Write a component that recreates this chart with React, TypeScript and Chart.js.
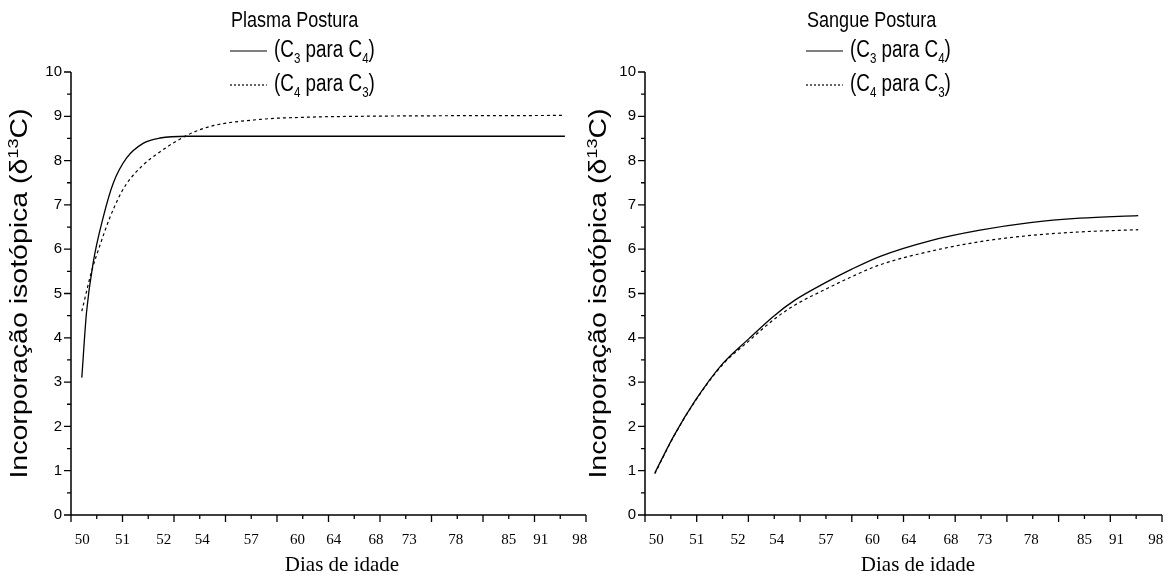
import React, { useEffect, useRef } from "react";
import { Chart, registerables } from "chart.js";

Chart.register(...registerables);

// X axis: tick labels (days of age) and where they sit along the 0..10 axis
const dayLabels = ["50", "51", "52", "54", "57", "60", "64", "68", "73", "78", "85", "91", "98"];
const dayLabelPos = [0.22, 1.0, 1.8, 2.55, 3.5, 4.4, 5.1, 5.92, 6.57, 7.47, 8.5, 9.12, 9.88];

// Plasma (Postura)
const plasmaC3C4X = [0.21, 0.3, 0.43, 0.63, 0.82, 1.08, 1.4, 1.73, 2.25, 3.0, 9.59];
const plasmaC3C4Y = [3.1, 4.56, 5.69, 6.74, 7.49, 8.06, 8.39, 8.51, 8.55, 8.55, 8.55];
const plasmaC4C3X = [0.21, 0.4, 0.58, 0.75, 0.92, 1.08, 1.4, 1.73, 2.25, 2.7, 3.67, 4.6, 5.6, 9.59];
const plasmaC4C3Y = [4.6, 5.5, 6.15, 6.7, 7.15, 7.48, 7.9, 8.2, 8.57, 8.77, 8.93, 8.98, 9.0, 9.02];

// Sangue (Postura)
const sangueC3C4X = [0.19, 0.55, 0.97, 1.49, 2.0, 2.5, 2.9, 3.5, 4.0, 4.55, 5.51, 6.48, 7.45, 8.41, 9.54];
const sangueC3C4Y = [0.95, 1.77, 2.58, 3.4, 3.97, 4.5, 4.85, 5.25, 5.55, 5.84, 6.19, 6.43, 6.6, 6.7, 6.76];
const sangueC4C3X = [0.19, 0.55, 0.97, 1.49, 2.0, 2.5, 2.9, 3.5, 4.0, 4.55, 5.51, 6.48, 7.45, 8.41, 9.54];
const sangueC4C3Y = [0.93, 1.76, 2.57, 3.38, 3.92, 4.42, 4.74, 5.1, 5.38, 5.65, 5.95, 6.17, 6.31, 6.39, 6.44];

const SANS = "'Liberation Sans', Arial, sans-serif";
const SERIF = "'Liberation Serif', 'Times New Roman', serif";

// the sans-serif labels are set in a horizontally narrowed face
const NARROW = 0.82;

type Run = { t: string; size: number; dy: number };

function runsWidth(ctx: CanvasRenderingContext2D, runs: Run[], family: string) {
  let w = 0;
  for (const r of runs) {
    ctx.font = `${r.size}px ${family}`;
    w += ctx.measureText(r.t).width;
  }
  return w;
}

function drawRuns(ctx: CanvasRenderingContext2D, runs: Run[], x: number, y: number, family: string) {
  let cx = x;
  for (const r of runs) {
    ctx.font = `${r.size}px ${family}`;
    ctx.fillText(r.t, cx, y + r.dy);
    cx += ctx.measureText(r.t).width;
  }
}

// horizontal rich text, narrowed along x
function drawNarrow(ctx: CanvasRenderingContext2D, runs: Run[], x: number, y: number) {
  ctx.save();
  ctx.translate(x, y);
  ctx.scale(NARROW, 1);
  drawRuns(ctx, runs, 0, 0, SANS);
  ctx.restore();
}

const legendA: Run[] = [
  { t: "(C", size: 23, dy: 0 },
  { t: "3", size: 14, dy: 8 },
  { t: " para C", size: 23, dy: 0 },
  { t: "4", size: 14, dy: 8 },
  { t: ")", size: 23, dy: 0 },
];
const legendB: Run[] = [
  { t: "(C", size: 23, dy: 0 },
  { t: "4", size: 14, dy: 8 },
  { t: " para C", size: 23, dy: 0 },
  { t: "3", size: 14, dy: 8 },
  { t: ")", size: 23, dy: 0 },
];
const yTitle: Run[] = [
  { t: "Incorporação isotópica (δ", size: 28.5, dy: 0 },
  { t: "13", size: 18, dy: -9 },
  { t: "C)", size: 28.5, dy: 0 },
];

type PanelProps = {
  title: string;
  xa: number[];
  ya: number[];
  xb: number[];
  yb: number[];
  axisLeft: number;
  axisRight: number;
  legendX: number;
  yTitleX: number;
  xTitleX: number;
};

const W = 587;
const H = 575;
const TOP = 72;
const BOTTOM = 515;

function Panel(p: PanelProps) {
  const ref = useRef<HTMLCanvasElement | null>(null);

  useEffect(() => {
    if (!ref.current) return;

    const decor = {
      id: "panelDecor",
      afterDraw(chart: any) {
        const ctx: CanvasRenderingContext2D = chart.ctx;
        const xs = chart.scales.x;
        const ys = chart.scales.y;
        const { left, right, top, bottom } = chart.chartArea;
        ctx.save();
        ctx.strokeStyle = "#000";
        ctx.fillStyle = "#000";

        // axis lines
        ctx.lineWidth = 1.5;
        ctx.beginPath();
        ctx.moveTo(left, top);
        ctx.lineTo(left, bottom);
        ctx.lineTo(right, bottom);
        ctx.stroke();

        // major and minor ticks
        ctx.lineWidth = 1.3;
        ctx.beginPath();
        for (let i = 0; i <= 20; i++) {
          const v = i / 2;
          const len = i % 2 === 0 ? 7 : 4;
          const py = ys.getPixelForValue(v);
          ctx.moveTo(left - len, py);
          ctx.lineTo(left, py);
          const px = xs.getPixelForValue(v);
          ctx.moveTo(px, bottom);
          ctx.lineTo(px, bottom + len);
        }
        ctx.stroke();

        // x axis title
        ctx.font = `21px ${SERIF}`;
        ctx.textAlign = "center";
        ctx.textBaseline = "middle";
        ctx.fillText("Dias de idade", p.xTitleX, 565);

        // y axis title (rotated, with superscript)
        ctx.save();
        ctx.translate(p.yTitleX, (top + bottom) / 2);
        ctx.scale(NARROW, 1);
        ctx.rotate(-Math.PI / 2);
        ctx.textAlign = "left";
        ctx.textBaseline = "middle";
        const tw = runsWidth(ctx, yTitle, SANS);
        drawRuns(ctx, yTitle, -tw / 2, 0, SANS);
        ctx.restore();

        // panel title and legend
        ctx.textAlign = "left";
        ctx.textBaseline = "middle";
        drawNarrow(ctx, [{ t: p.title, size: 22, dy: 0 }], p.legendX + 1, 21);

        ctx.lineWidth = 1.2;
        ctx.beginPath();
        ctx.moveTo(p.legendX, 51);
        ctx.lineTo(p.legendX + 37, 51);
        ctx.stroke();
        drawNarrow(ctx, legendA, p.legendX + 44, 51);

        ctx.setLineDash([2, 2]);
        ctx.beginPath();
        ctx.moveTo(p.legendX, 85);
        ctx.lineTo(p.legendX + 37, 85);
        ctx.stroke();
        ctx.setLineDash([]);
        drawNarrow(ctx, legendB, p.legendX + 44, 85);

        ctx.restore();
      },
    };

    const chart = new Chart(ref.current, {
      type: "line",
      data: {
        datasets: [
          {
            label: "(C3 para C4)",
            data: p.xa.map((x, i) => ({ x, y: p.ya[i] })),
            borderColor: "#000",
            borderWidth: 1.3,
            pointRadius: 0,
            fill: false,
            cubicInterpolationMode: "monotone",
          },
          {
            label: "(C4 para C3)",
            data: p.xb.map((x, i) => ({ x, y: p.yb[i] })),
            borderColor: "#000",
            borderWidth: 1.2,
            borderDash: [3, 3],
            pointRadius: 0,
            fill: false,
            cubicInterpolationMode: "monotone",
          },
        ],
      },
      options: {
        animation: false,
        responsive: false,
        devicePixelRatio: 1,
        layout: { padding: { left: 0, right: W - p.axisRight, top: TOP, bottom: 0 } },
        plugins: { legend: { display: false }, tooltip: { enabled: false } },
        scales: {
          x: {
            type: "linear",
            min: 0,
            max: 10,
            border: { display: false },
            grid: { display: false, drawTicks: false },
            afterBuildTicks: (s: any) => {
              s.ticks = dayLabelPos.map((v) => ({ value: v }));
            },
            afterFit: (s: any) => {
              s.height = H - BOTTOM;
              s.paddingLeft = 0;
              s.paddingRight = 0;
            },
            ticks: {
              autoSkip: false,
              maxRotation: 0,
              padding: 16,
              color: "#000",
              font: { family: SERIF, size: 15 },
              callback: (_v: any, i: number) => dayLabels[i],
            },
          },
          y: {
            type: "linear",
            min: 0,
            max: 10,
            border: { display: false },
            grid: { display: false, drawTicks: false },
            afterFit: (s: any) => {
              s.width = p.axisLeft;
              s.paddingTop = 0;
              s.paddingBottom = 0;
            },
            ticks: {
              stepSize: 1,
              padding: 9,
              color: "#000",
              font: { family: SANS, size: 15 },
            },
          },
        },
      },
      plugins: [decor],
    } as any);

    return () => chart.destroy();
  }, []);

  return <canvas ref={ref} width={W} height={H} style={{ width: W, height: H, display: "block" }} />;
}

export default function App() {
  return (
    <div
      style={{
        position: "fixed",
        left: 0,
        top: 0,
        width: 1174,
        height: 575,
        background: "#fff",
        display: "flex",
      }}
    >
      <Panel
        title="Plasma Postura"
        xa={plasmaC3C4X}
        ya={plasmaC3C4Y}
        xb={plasmaC4C3X}
        yb={plasmaC4C3Y}
        axisLeft={71}
        axisRight={586}
        legendX={230}
        yTitleX={21}
        xTitleX={342}
      />
      <Panel
        title="Sangue Postura"
        xa={sangueC3C4X}
        ya={sangueC3C4Y}
        xb={sangueC4C3X}
        yb={sangueC4C3Y}
        axisLeft={58}
        axisRight={575}
        legendX={219}
        yTitleX={13}
        xTitleX={331}
      />
    </div>
  );
}
